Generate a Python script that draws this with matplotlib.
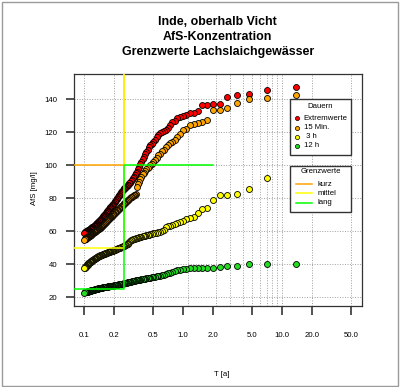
import matplotlib
matplotlib.use("Agg")
import matplotlib.pyplot as plt
from matplotlib.patches import Rectangle
from matplotlib.lines import Line2D

plt.rcParams["font.family"] = ["Liberation Sans", "DejaVu Sans"]

# return period T [a] of each ranked value (rank 1 .. 140)
T = [14.0, 7.0, 4.667, 3.5, 2.8, 2.333, 2.0, 1.75, 1.556, 1.4,
     1.273, 1.167, 1.077, 1.0, 0.933, 0.875, 0.824, 0.778, 0.737, 0.7,
     0.667, 0.636, 0.609, 0.583, 0.56, 0.538, 0.519, 0.5, 0.483, 0.467,
     0.452, 0.438, 0.424, 0.412, 0.4, 0.389, 0.378, 0.368, 0.359, 0.35,
     0.341, 0.333, 0.326, 0.318, 0.311, 0.304, 0.298, 0.292, 0.286, 0.28,
     0.275, 0.269, 0.264, 0.259, 0.255, 0.25, 0.246, 0.241, 0.237, 0.233,
     0.230, 0.226, 0.222, 0.219, 0.215, 0.212, 0.209, 0.206, 0.203, 0.2,
     0.197, 0.194, 0.192, 0.189, 0.187, 0.184, 0.182, 0.179, 0.177, 0.175,
     0.173, 0.171, 0.169, 0.167, 0.165, 0.163, 0.161, 0.159, 0.157, 0.156,
     0.154, 0.152, 0.151, 0.149, 0.147, 0.146, 0.144, 0.143, 0.141, 0.14,
     0.139, 0.137, 0.136, 0.135, 0.133, 0.132, 0.131, 0.130, 0.128, 0.127,
     0.126, 0.125, 0.124, 0.123, 0.122, 0.121, 0.120, 0.119, 0.118, 0.117,
     0.116, 0.115, 0.114, 0.113, 0.112, 0.111, 0.110, 0.109, 0.109, 0.108,
     0.107, 0.106, 0.105, 0.104, 0.104, 0.103, 0.102, 0.101, 0.101, 0.1]

EXTREM = [147.3, 145.5, 143.1, 142.7, 141.1, 137.0, 137.0, 136.3, 136.2, 132.6,
          131.8, 131.4, 130.5, 130.0, 129.0, 128.5, 127.0, 126.0, 124.5, 122.5,
          121.5, 120.7, 120.0, 119.5, 118.0, 117.0, 115.5, 114.3, 113.0, 112.3,
          111.0, 109.5, 108.0, 106.5, 105.0, 103.5, 102.0, 100.5, 99.0, 97.5,
          96.0, 95.0, 94.0, 93.0, 92.0, 91.0, 90.3, 89.5, 89.0, 88.3,
          88.0, 87.5, 87.0, 86.5, 86.0, 85.5, 85.0, 84.3, 83.7, 83.0,
          82.5, 82.0, 81.3, 80.7, 80.0, 79.5, 78.8, 78.2, 77.6, 77.0,
          76.6, 76.2, 75.8, 75.4, 75.0, 74.5, 74.1, 73.7, 73.2, 72.8,
          72.4, 72.0, 71.6, 71.3, 70.9, 70.5, 70.1, 69.7, 69.3, 69.0,
          68.6, 68.2, 67.8, 67.5, 67.3, 67.0, 66.8, 66.5, 66.3, 66.0,
          65.7, 65.5, 65.2, 65.0, 64.7, 64.5, 64.2, 64.0, 63.7, 63.5,
          63.4, 63.2, 63.0, 62.9, 62.7, 62.5, 62.4, 62.2, 62.0, 61.9,
          61.7, 61.5, 61.4, 61.2, 61.0, 60.9, 60.7, 60.6, 60.4, 60.3,
          60.2, 60.0, 59.9, 59.8, 59.7, 59.5, 59.4, 59.3, 59.1, 59.0]

MIN15 = [142.5, 140.4, 140.0, 137.4, 134.5, 133.7, 133.5, 127.4, 126.4, 125.8,
         125.2, 124.4, 121.8, 121.4, 119.0, 117.0, 115.5, 114.3, 113.3, 112.3,
         111.0, 109.5, 108.5, 107.0, 106.0, 104.5, 103.0, 102.0, 101.0, 100.0,
         99.0, 98.3, 97.5, 96.5, 95.5, 94.5, 93.0, 91.5, 90.0, 88.5,
         87.0, 82.5, 82.1, 81.7, 81.3, 80.9, 80.5, 80.1, 79.6, 79.2,
         78.7, 78.3, 77.9, 77.4, 77.0, 76.5, 76.1, 75.6, 75.2, 74.8,
         74.4, 73.9, 73.5, 73.1, 72.6, 72.2, 71.8, 71.4, 70.9, 70.5,
         70.2, 69.8, 69.5, 69.2, 68.9, 68.5, 68.2, 67.9, 67.6, 67.2,
         66.9, 66.6, 66.3, 65.9, 65.6, 65.3, 65.0, 64.6, 64.3, 64.0,
         63.7, 63.3, 63.0, 62.8, 62.6, 62.4, 62.3, 62.1, 61.9, 61.7,
         61.5, 61.3, 61.1, 60.9, 60.8, 60.6, 60.4, 60.2, 60.0, 59.8,
         59.6, 59.4, 59.3, 59.1, 58.9, 58.7, 58.5, 58.3, 58.2, 58.0,
         57.9, 57.7, 57.6, 57.4, 57.3, 57.1, 57.0, 56.8, 56.7, 56.5,
         56.3, 56.2, 56.0, 55.9, 55.7, 55.6, 55.5, 55.3, 55.2, 55.0]

H3 = [98.0, 92.4, 85.9, 82.4, 81.8, 81.8, 78.9, 74.4, 73.2, 71.2,
      68.7, 68.1, 67.3, 66.3, 65.7, 65.3, 64.4, 64.0, 63.5, 63.2,
      62.5, 61.0, 60.0, 59.7, 59.5, 59.2, 59.0, 58.7, 58.5, 58.3,
      58.0, 57.8, 57.5, 57.3, 57.1, 56.9, 56.7, 56.5, 56.3, 56.1,
      55.9, 55.7, 55.5, 55.3, 55.1, 54.8, 54.5, 54.0, 53.5, 53.0,
      52.6, 52.2, 51.9, 51.6, 51.3, 51.1, 50.9, 50.7, 50.5, 50.4,
      50.2, 50.0, 49.8, 49.6, 49.4, 49.2, 49.1, 48.9, 48.7, 48.5,
      48.4, 48.3, 48.1, 48.0, 47.9, 47.8, 47.7, 47.6, 47.4, 47.3,
      47.2, 47.1, 47.0, 46.9, 46.7, 46.6, 46.5, 46.4, 46.3, 46.2,
      46.0, 45.9, 45.8, 45.7, 45.6, 45.5, 45.4, 45.3, 45.1, 45.0,
      44.8, 44.7, 44.5, 44.4, 44.2, 44.1, 43.9, 43.7, 43.6, 43.4,
      43.3, 43.1, 43.0, 42.8, 42.6, 42.5, 42.3, 42.2, 42.0, 41.9,
      41.7, 41.6, 41.4, 41.2, 41.0, 40.8, 40.6, 40.4, 40.1, 39.9,
      39.7, 39.5, 39.3, 39.1, 38.9, 38.7, 38.5, 38.2, 38.0, 37.8]

H12 = [40.5, 40.5, 40.0, 38.8, 38.8, 38.2, 38.0, 37.9, 37.8, 37.7,
       37.6, 37.5, 37.3, 37.1, 36.6, 36.3, 35.8, 35.4, 35.0, 34.6,
       34.3, 33.6, 33.4, 33.2, 33.0, 32.8, 32.5, 32.2, 32.1, 31.9,
       31.8, 31.7, 31.5, 31.4, 31.3, 31.1, 31.0, 30.8, 30.7, 30.6,
       30.4, 30.3, 30.2, 30.0, 29.9, 29.8, 29.6, 29.5, 29.4, 29.3,
       29.1, 29.0, 28.9, 28.7, 28.6, 28.5, 28.4, 28.3, 28.2, 28.2,
       28.1, 28.0, 27.9, 27.8, 27.7, 27.7, 27.6, 27.5, 27.4, 27.3,
       27.2, 27.2, 27.1, 27.1, 27.0, 26.9, 26.9, 26.8, 26.7, 26.7,
       26.6, 26.6, 26.5, 26.4, 26.4, 26.3, 26.2, 26.2, 26.1, 26.1,
       26.0, 25.9, 25.9, 25.8, 25.7, 25.7, 25.6, 25.6, 25.5, 25.4,
       25.4, 25.3, 25.2, 25.2, 25.1, 25.1, 25.0, 24.9, 24.8, 24.8,
       24.7, 24.7, 24.6, 24.5, 24.5, 24.4, 24.3, 24.3, 24.2, 24.2,
       24.1, 24.0, 24.0, 23.9, 23.8, 23.8, 23.7, 23.7, 23.6, 23.5,
       23.5, 23.4, 23.3, 23.3, 23.2, 23.2, 23.1, 23.0, 23.0, 22.9]

DAUERN = ["Extremwerte", "15 Min.", " 3 h", "12 h"]
DAUER_COLORS = ["#FF0000", "#FFA500", "#FFFF00", "#22DD22"]

# Grenzwerte Lachslaichgewaesser
GRENZ_LABELS = ["kurz", "mittel", "lang"]
GRENZ_VALUES = [100, 50, 25]
GRENZ_COLORS = ["#FFA500", "#FFFF00", "#00FF00"]
T_GRENZ = 0.25
LANG_UPPER = 100
T_LANG_END = 2.0

XTICKS = [0.1, 0.2, 0.5, 1, 2, 5, 10, 20, 50]
XTICKLABELS = ["0.1", "0.2", "0.5", "1.0", "2.0", "5.0", "10.0", "20.0", "50.0"]
XGRID = [0.1, 0.2, 0.5, 1.11, 2.15, 3, 4, 5, 6, 7, 8, 9, 10, 20, 50]
YTICKS = [20, 40, 60, 80, 100, 120, 140]

W, H = 400, 387
AX_L, AX_R, AX_T, AX_B = 73.5, 362.0, 74.0, 306.0


def axf(px, py):
    # pixel position -> axes fraction
    return (px - AX_L) / (AX_R - AX_L), (AX_B - py) / (AX_B - AX_T)


fig = plt.figure(figsize=(W / 100, H / 100), dpi=100)
fig.patch.set_facecolor("white")
ax = fig.add_axes([AX_L / W, (H - AX_B) / H, (AX_R - AX_L) / W, (AX_B - AX_T) / H])
ax.set_xscale("log")
xmin, xmax = 0.0778, 64.4
ax.set_xlim(xmin, xmax)
ax.set_ylim(14.8, 155.2)

# grid
for x in XGRID:
    ax.axvline(x, color="#a0a0a0", lw=0.7, ls=(0, (1, 1.6)), zorder=1)
for y in YTICKS:
    ax.axhline(y, color="#a0a0a0", lw=0.7, ls=(0, (1, 1.6)), zorder=1)

# points
for vals, col in zip([EXTREM, MIN15, H3, H12], DAUER_COLORS):
    ax.plot(T, vals, ls="none", marker="o", ms=4.3, mfc=col, mec="black",
            mew=0.6, zorder=3)

# limit lines
kurz_c, mittel_c, lang_c = GRENZ_COLORS
kurz_v, mittel_v, lang_v = GRENZ_VALUES
ax.plot([xmin, T_GRENZ, T_GRENZ], [kurz_v, kurz_v, 200], color=kurz_c, lw=1.1, zorder=4)
ax.plot([xmin, T_GRENZ, T_GRENZ], [mittel_v, mittel_v, 200], color=mittel_c, lw=1.1, zorder=4)
ax.plot([xmin, T_GRENZ, T_GRENZ, T_LANG_END], [lang_v, lang_v, LANG_UPPER, LANG_UPPER],
        color=lang_c, lw=1.1, zorder=4)

# axes styling
for s in ax.spines.values():
    s.set_color("#333333")
    s.set_linewidth(0.9)
ax.set_xticks(XTICKS)
ax.set_xticklabels(XTICKLABELS)
ax.xaxis.set_minor_locator(matplotlib.ticker.NullLocator())
ax.set_yticks(YTICKS)
ax.tick_params(axis="x", length=6.5, width=1.3, color="#444444", pad=12.5, labelsize=5.6)
ax.tick_params(axis="y", length=6.0, width=1.3, color="#444444", pad=5.5, labelsize=5.6)

# legends drawn by hand
def box(px0, py0, px1, py1):
    x0, y1 = axf(px0, py0)
    x1, y0 = axf(px1, py1)
    ax.add_patch(Rectangle((x0, y0), x1 - x0, y1 - y0, transform=ax.transAxes,
                           facecolor="white", edgecolor="#333333", lw=1.0,
                           zorder=6, clip_on=False))

box(290, 99.3, 351, 155.3)
tx, ty = axf(320.5, 106)
ax.text(tx, ty, "Dauern", transform=ax.transAxes, ha="center", va="center",
        fontsize=5.6, zorder=7)
for i, (lab, col) in enumerate(zip(DAUERN, DAUER_COLORS)):
    py = 118.3 + i * 9.2
    mx, my = axf(296.7, py)
    ax.plot([mx], [my], transform=ax.transAxes, marker="o", ms=3.0, mfc=col,
            mec="black", mew=0.5, zorder=7, clip_on=False)
    lx, _ = axf(303.5, py)
    ax.text(lx, my, lab, transform=ax.transAxes, ha="left", va="center",
            fontsize=5.6, zorder=7)

box(290, 166, 351, 211.7)
tx, ty = axf(320.5, 171.7)
ax.text(tx, ty, "Grenzwerte", transform=ax.transAxes, ha="center", va="center",
        fontsize=5.6, zorder=7)
for i, (lab, col) in enumerate(zip(GRENZ_LABELS, GRENZ_COLORS)):
    py = 184 + i * 9.3
    x0, my = axf(296, py)
    x1, _ = axf(311.7, py)
    ax.add_line(Line2D([x0, x1], [my, my], transform=ax.transAxes, color=col,
                       lw=1.1, zorder=7, clip_on=False))
    lx, _ = axf(317.5, py)
    ax.text(lx, my, lab, transform=ax.transAxes, ha="left", va="center",
            fontsize=5.6, zorder=7)

# titles and axis labels
cx = (AX_L + AX_R) / 2 / W
for yy, line in zip([22.3, 36.7, 51.7],
                    ["Inde, oberhalb Vicht", "AfS-Konzentration",
                     "Grenzwerte Lachslaichgewässer"]):
    fig.text(cx, 1 - yy / H, line, ha="center", va="center", fontsize=8.9,
             fontweight="bold")
fig.text(221.7 / W, 1 - 374 / H, "T [a]", ha="center", va="center", fontsize=5.6)
fig.text(35 / W, 1 - 188 / H, "AfS [mg/l]", ha="center", va="center",
         fontsize=5.6, rotation=90)

# outer frame
fig.add_artist(Rectangle((1.5 / W, 1.5 / H), (W - 3.5) / W, (H - 3.5) / H,
                         transform=fig.transFigure, fill=False,
                         edgecolor="#9a9a9a", lw=1.0))

fig.savefig("out.png", dpi=100)
